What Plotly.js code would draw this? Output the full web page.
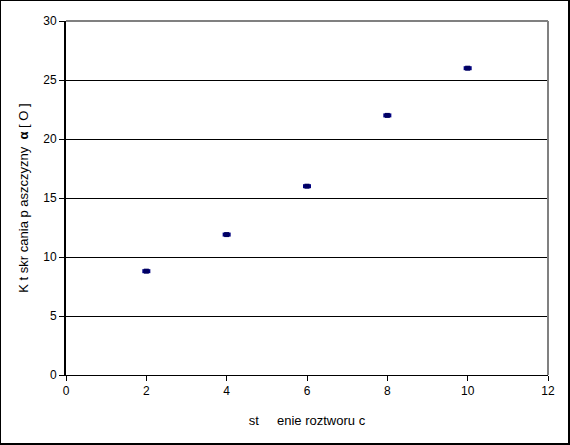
<!DOCTYPE html>
<html>
<head>
<meta charset="utf-8">
<script src="https://cdn.plot.ly/plotly-3.0.1.min.js"></script>
<style>
html,body{margin:0;padding:0;background:#fff;}
#wrap{position:relative;width:570px;height:445px;}
#frame{position:absolute;left:0;top:0;width:570px;height:445px;box-sizing:border-box;border-left:1px solid #000;border-top:1px solid #000;border-right:2px solid #000;border-bottom:2px solid #000;pointer-events:none;z-index:10;}
#chart{position:absolute;left:0;top:0;width:570px;height:445px;}
</style>
</head>
<body>
<div id="wrap"><div id="chart"></div><div id="frame"></div></div>
<script>
const concentration = [2, 4, 6, 8, 10];
const angle = [8.8, 11.9, 16.0, 22.0, 26.0];
const xTicks = [0, 2, 4, 6, 8, 10, 12];
const yTicks = [0, 5, 10, 15, 20, 25, 30];
const xTitle = 'st&nbsp;&nbsp;&nbsp;&nbsp;&nbsp;enie roztworu c';
const yTitle = 'K t skr cania p aszczyzny&nbsp;&nbsp;<b>α</b>&nbsp;[ O ]';

const trace = {
  x: concentration,
  y: angle,
  type: 'scatter',
  mode: 'markers',
  marker: {symbol: 'square', size: 5, color: '#000060', line: {width: 0}},
  error_x: {type: 'constant', value: 0.1, thickness: 4, width: 0, color: '#000080'},
  hoverinfo: 'none'
};

const tickFont = {family: '"Liberation Sans", Arial, sans-serif', size: 12, color: '#000'};
const titleFont = {family: '"Liberation Sans", Arial, sans-serif', size: 13, color: '#000'};

const layout = {
  width: 570, height: 445,
  margin: {l: 66, r: 22, t: 21, b: 70, pad: 0},
  paper_bgcolor: '#fff', plot_bgcolor: '#fff',
  showlegend: false,
  font: tickFont,
  xaxis: {
    range: [0, 12], tickvals: xTicks, ticktext: xTicks.map(String),
    showgrid: false, zeroline: false,
    showline: true, linecolor: '#000', linewidth: 1,
    ticks: 'outside', ticklen: 5, tickcolor: '#000', tickwidth: 1,
    tickfont: tickFont, automargin: false,
    title: {text: xTitle, font: titleFont, standoff: 18}
  },
  yaxis: {
    range: [0, 30], tickvals: yTicks, ticktext: yTicks.map(String),
    showgrid: true, gridcolor: '#000', gridwidth: 1, zeroline: false,
    showline: true, linecolor: '#000', linewidth: 2,
    ticks: 'outside', ticklen: 5, tickcolor: '#000', tickwidth: 1,
    tickfont: tickFont, automargin: false,
    title: {text: yTitle, font: titleFont, standoff: 12}
  },
  shapes: [
    {type: 'line', xref: 'paper', yref: 'paper', x0: 0, x1: 1, y0: 1, y1: 1, line: {color: '#808080', width: 2}},
    {type: 'line', xref: 'paper', yref: 'paper', x0: 1, x1: 1, y0: 0, y1: 1, line: {color: '#808080', width: 2}}
  ]
};

Plotly.newPlot('chart', [trace], layout, {staticPlot: true, displayModeBar: false});
</script>
</body>
</html>
